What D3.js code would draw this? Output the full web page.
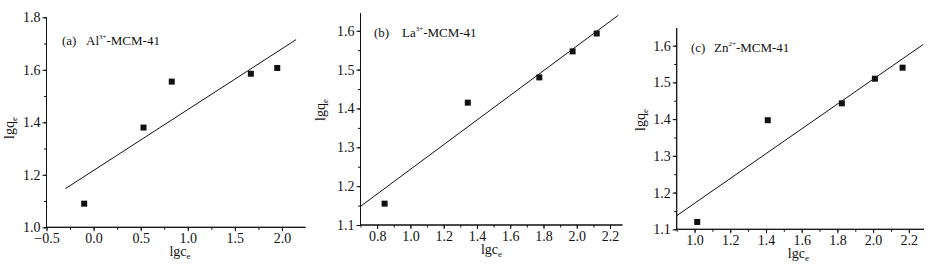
<!DOCTYPE html>
<html>
<head>
<meta charset="utf-8">
<script src="https://cdn.jsdelivr.net/npm/d3@7"></script>
<style>
body { margin: 0; background: #fff; }
svg, svg text { font-family: "Liberation Serif", "Times New Roman", serif; }
</style>
</head>
<body>
<div id="chart"></div>
<script>
// data
const a_x = [-0.1, 0.53, 0.83, 1.67, 1.95]
const a_y = [1.09, 1.38, 1.555, 1.585, 1.607]
const a_fit_x = [-0.3, 2.15]
const a_fit_y = [1.147, 1.715]
const a_xticks = [-0.5, 0.0, 0.5, 1.0, 1.5, 2.0]
const a_yticks = [1.0, 1.2, 1.4, 1.6, 1.8]

const b_x = [0.845, 1.345, 1.775, 1.975, 2.12]
const b_y = [1.155, 1.415, 1.48, 1.547, 1.593]
const b_fit_x = [0.7, 2.25]
const b_fit_y = [1.148, 1.64]
const b_xticks = [0.8, 1.0, 1.2, 1.4, 1.6, 1.8, 2.0, 2.2]
const b_yticks = [1.1, 1.2, 1.3, 1.4, 1.5, 1.6]

const c_x = [1.015, 1.41, 1.825, 2.01, 2.165]
const c_y = [1.12, 1.397, 1.443, 1.51, 1.54]
const c_fit_x = [0.9, 2.28]
const c_fit_y = [1.137, 1.603]
const c_xticks = [1.0, 1.2, 1.4, 1.6, 1.8, 2.0, 2.2]
const c_yticks = [1.1, 1.2, 1.3, 1.4, 1.5, 1.6]

const width = 940
const height = 271
const ink = "#111"

const svg = d3.select("#chart").append("svg")
    .attr("width", width)
    .attr("height", height)

function minor_ticks(lo, hi, step){
    var out = []
    for (var v = lo; v <= hi + 1e-9; v += step) out.push(+v.toFixed(4))
    return out
}

function draw_panel(p){
    var g = svg.append("g")
    var x = d3.scaleLinear().domain(p.xdom).range([p.left, p.right])
    var y = d3.scaleLinear().domain(p.ydom).range([p.bottom, p.top])

    // x axis
    var xa = g.append("g").attr("transform", "translate(0," + p.bottom + ")")
    xa.call(d3.axisBottom(x).tickValues(p.xticks).tickFormat(d3.format(".1f")).tickSize(4).tickPadding(2))
    xa.append("g").call(d3.axisBottom(x).tickValues(p.xminor).tickFormat("").tickSize(2.5))
    xa.selectAll(".domain").attr("d", "M" + p.left + ",0H" + p.right)

    // y axis
    var ya = g.append("g").attr("transform", "translate(" + p.left + ",0)")
    ya.call(d3.axisLeft(y).tickValues(p.yticks).tickFormat(d3.format(".1f")).tickSize(4).tickPadding(2))
    ya.append("g").call(d3.axisLeft(y).tickValues(p.yminor).tickFormat("").tickSize(2.5))
    ya.selectAll(".domain").attr("d", "M0," + p.bottom + "V" + p.top)

    g.selectAll("g").attr("font-family", null)
    g.selectAll(".tick text").attr("font-size", 14).attr("fill", ink)
        .style("font-family", "'Liberation Serif', serif")
    g.selectAll(".domain, .tick line").attr("stroke", ink).attr("stroke-width", 1)

    // fit line
    g.append("line")
        .attr("x1", x(p.fx[0])).attr("y1", y(p.fy[0]))
        .attr("x2", x(p.fx[1])).attr("y2", y(p.fy[1]))
        .attr("stroke", ink).attr("stroke-width", 1)

    // points
    g.selectAll("rect.pt").data(d3.zip(p.xs, p.ys)).join("rect")
        .attr("class", "pt")
        .attr("x", d => x(d[0]) - 3).attr("y", d => y(d[1]) - 3)
        .attr("width", 6).attr("height", 6)
        .attr("fill", ink)

    // axis titles
    var xt = g.append("text").attr("x", (p.left + p.right) / 2 + p.xtdx).attr("y", p.bottom + 29)
        .attr("text-anchor", "middle").attr("font-size", 14).attr("fill", ink)
    xt.append("tspan").text("lgc")
    xt.append("tspan").attr("font-size", 9).attr("dy", 3).text("e")

    var yt = g.append("text")
        .attr("transform", "translate(" + p.ytx + "," + p.yty + ") rotate(-90)")
        .attr("text-anchor", "middle").attr("font-size", 14).attr("fill", ink)
    yt.append("tspan").text("lgq")
    yt.append("tspan").attr("font-size", 9).attr("dy", 3).text("e")

    // panel label
    g.append("text").attr("x", p.lx).attr("y", p.ly).attr("font-size", 13).attr("fill", ink).text(p.tag)
    var lt = g.append("text").attr("x", p.lx + p.ldx).attr("y", p.ly).attr("font-size", 13).attr("fill", ink)
    lt.append("tspan").text(p.ion)
    lt.append("tspan").attr("font-size", 7).attr("dy", -6).text(p.charge)
    lt.append("tspan").attr("dy", 6).text("-MCM-41")
}

draw_panel({
    xs: a_x, ys: a_y, fx: a_fit_x, fy: a_fit_y,
    xdom: [-0.5, 2.25], ydom: [1.0, 1.8],
    left: 46.5, right: 305.5, top: 17.3, bottom: 227.3,
    xticks: a_xticks, yticks: a_yticks,
    xminor: minor_ticks(-0.5, 2.0, 0.25), yminor: minor_ticks(1.0, 1.8, 0.1),
    xtdx: 4, ytx: 14, yty: 128,
    lx: 62, ly: 45, ldx: 24, tag: "(a)", ion: "Al", charge: "3+"
})

draw_panel({
    xs: b_x, ys: b_y, fx: b_fit_x, fy: b_fit_y,
    xdom: [0.7, 2.275], ydom: [1.1, 1.645],
    left: 360.5, right: 622.5, top: 13.3, bottom: 225,
    xticks: b_xticks, yticks: b_yticks,
    xminor: minor_ticks(0.7, 2.2, 0.1), yminor: minor_ticks(1.1, 1.6, 0.05),
    xtdx: 0, ytx: 325, yty: 110,
    lx: 374, ly: 37, ldx: 28, tag: "(b)", ion: "La", charge: "3+"
})

draw_panel({
    xs: c_x, ys: c_y, fx: c_fit_x, fy: c_fit_y,
    xdom: [0.9, 2.285], ydom: [1.1, 1.648],
    left: 676.7, right: 924, top: 28, bottom: 229.3,
    xticks: c_xticks, yticks: c_yticks,
    xminor: minor_ticks(0.9, 2.2, 0.1), yminor: minor_ticks(1.1, 1.6, 0.05),
    xtdx: -2, ytx: 645, yty: 120,
    lx: 691, ly: 52, ldx: 23, tag: "(c)", ion: "Zn", charge: "2+"
})
</script>
</body>
</html>
